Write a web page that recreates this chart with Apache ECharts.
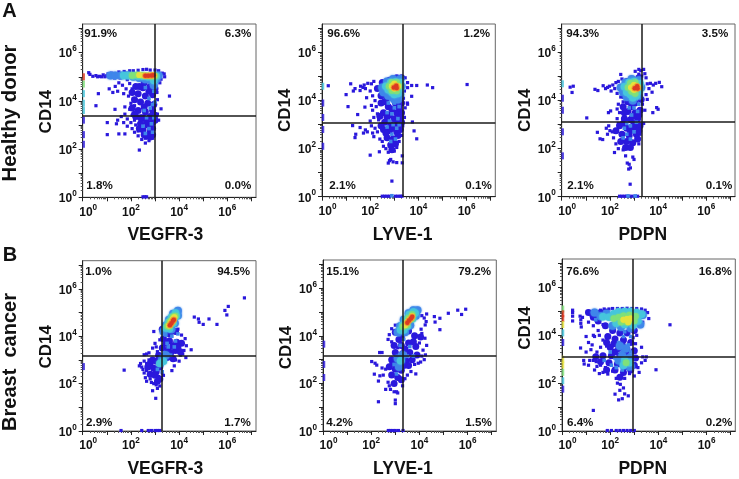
<!DOCTYPE html>
<html><head><meta charset="utf-8">
<script src="https://cdn.jsdelivr.net/npm/echarts@6/dist/echarts.min.js"></script>
<style>html,body{margin:0;background:#fff}#c{width:739px;height:479px}#c canvas{filter:blur(0.35px)}</style></head>
<body><div id="c"></div>
<script>
// All mark values are log10 decades.
const xTitles = ['VEGFR-3','LYVE-1','PDPN','VEGFR-3','LYVE-1','PDPN'];
const yTitle = 'CD14';
const tickExponents = [0,2,4,6];
const quadrantLabels = [
  ['91.9%','6.3%','1.8%','0.0%'],['96.6%','1.2%','2.1%','0.1%'],['94.3%','3.5%','2.1%','0.1%'],
  ['1.0%','94.5%','2.9%','1.7%'],['15.1%','79.2%','4.2%','1.5%'],['76.6%','16.8%','6.4%','0.2%']];
const gateX = [3.0,3.37,3.32,3.29,3.31,2.95];
const gateY = [3.4,3.07,3.11,3.17,3.15,3.10];

const p1Blue = [[0.25,5.17],[0.3,5.1],[0.42,5.02],[0.55,5.05],[0.62,5.0],[0.7,5.02],[0.78,5.0],[0.85,5.08],[0.92,5.0],[0.98,5.04],[1.05,5.12],[1.1,5.0],[1.15,5.08],[1.2,5.15],[1.28,5.05],[1.32,4.95],[1.38,5.13],[1.45,5.05],[1.5,5.2],[1.55,4.95],[1.6,5.1],[1.68,5.02],[1.72,5.22],[1.8,5.15],[1.85,4.88],[1.95,5.25],[2.1,5.25],[2.3,5.27],[2.5,5.3],[2.65,5.31],[2.8,5.28],[3.0,5.28],[3.15,5.25],[3.3,5.15],[3.38,5.12],[3.25,4.9],[3.2,4.75],[3.4,5.0],[3.08,4.35],
[1.1,4.5],[1.35,4.6],[1.5,4.75],[1.65,4.65],[1.8,4.5],[1.95,4.72],[1.25,4.35],[1.45,4.4],[1.7,4.3],[1.9,4.2],[2.05,4.5],[2.1,4.1],[2.0,3.9],[1.75,3.75],[1.95,3.65],[2.15,3.8],[2.05,3.4],[1.75,3.45],[1.6,3.35],[1.45,3.2],[1.4,3.05],[1.7,3.1],[1.85,3.25],[2.0,3.1],[2.15,3.2],[1.85,2.95],[2.05,2.85],[2.2,3.0],[2.15,2.7],[2.3,2.55],[2.45,2.4],[2.6,2.45],[2.75,2.35],[2.9,2.45],[2.6,2.25],[2.35,1.96],[2.3,2.75],
[3.6,4.2],[0.55,3.8],[1.02,2.6],[1.02,3.1],[1.5,2.63],[1.75,2.63],[0.65,4.3],[1.34,3.65],[3.25,3.67],[3.1,4.05],[3.1,3.45],[3.15,3.2],[2.5,0.02],[2.58,0.02],[2.65,0.02]];
const p1Bulk = [[2.2,4.6],[2.5,4.55],[2.8,4.6],[3.0,4.5],[2.3,4.3],[2.6,4.2],[2.9,4.25],[2.4,3.95],[2.7,3.9],[2.95,3.85],[2.3,3.6],[2.6,3.55],[2.9,3.6],[2.2,3.35],[2.5,3.3],[2.8,3.35],[3.0,3.4],[2.4,3.05],[2.7,3.0],[2.9,3.1],[2.5,2.8],[2.8,2.75],[2.65,2.55],[2.9,2.6],[2.05,4.35],[2.15,4.05],[2.05,3.7],[2.55,4.75],[2.35,4.6],[2.75,4.4],[2.55,3.75],[2.15,3.45],[2.4,3.3],[2.65,3.15],[2.35,2.85],[2.55,2.6],[2.8,2.5],[2.9,2.85],[3.0,3.2]];
const p1Speck = [[2.6,4.55],[2.95,4.4],[2.75,4.1],[2.9,3.85],[2.55,3.6],[2.8,3.7],[2.95,3.3],[2.65,3.3],[2.85,3.05],[2.5,2.95],[2.75,2.85],[2.9,2.7],[2.6,2.65],[3.0,3.95]];
const p1Halo = [[1.15,5.05],[1.35,5.05],[1.6,5.05],[1.85,5.05],[2.1,5.0],[2.35,4.95],[2.6,4.9],[2.85,4.85],[3.05,4.9],[3.15,5.05],[2.95,4.65]];
const p1Teal = [[1.7,5.05],[1.9,5.05],[2.1,5.04],[2.3,5.03],[2.5,5.02],[2.7,5.0],[2.9,5.0],[3.05,5.02],[2.95,4.85]];
const p1Green = [[2.05,5.05],[2.25,5.07],[2.45,5.06],[2.65,5.04],[2.85,5.02],[3.0,5.03]];
const p1Yellow = [[2.35,5.07],[2.55,5.05],[2.75,5.05],[2.95,5.05]];
const p1Red = [[2.6,5.04],[2.72,5.04],[2.85,5.05],[2.93,5.06]];
const p1Edge = [[0,3.2,'blue'],[0,2.6,'blue'],[0,3.6,'teal'],[0,2.2,'blue'],[0,4.3,'teal'],[0,3.9,'teal'],[0,4.7,'green'],[0,5.0,'red']];

const p2Blue = [[0.26,4.62],[1.19,4.7],[1.0,4.25],[1.08,3.75],[1.37,4.5],[1.58,4.42],[1.3,4.4],[1.48,3.42],[1.78,3.73],[1.85,4.12],[1.27,2.96],[1.58,2.88],[1.4,2.6],[1.37,2.46],[1.72,2.65],[1.8,2.78],[1.88,2.7],[2.0,1.73],[2.38,1.87],[2.9,0.65],[6.02,4.67],[4.37,4.65],[4.59,4.54],[3.93,4.63],[3.72,4.63],[3.55,4.54],[3.72,4.18],[3.54,3.9],[3.75,3.11],[3.82,2.74],[3.93,2.41],[3.33,1.7],[3.33,1.41],
[1.6,4.6],[1.7,4.55],[1.8,4.5],[1.75,4.65],[1.9,4.72],[2.0,4.4],[2.05,4.7],[2.15,4.8],[2.1,4.2],[2.2,4.0],[2.05,3.8],[2.1,3.6],[2.25,3.75],[2.0,3.15],[2.15,3.3],[2.3,3.45],[2.35,3.2],[2.05,2.95],[2.2,2.85],[2.1,2.65],[2.3,2.7],[2.15,2.5],[2.4,2.4],[2.5,2.3],[2.55,2.1],[2.65,2.0],[2.75,1.85],[3.0,1.9],[3.1,2.05],[2.85,1.55],[2.95,1.45],[2.75,1.4],[2.8,1.5],[3.1,1.42],[3.2,2.3],[3.3,2.55],[3.35,2.95],[3.42,3.3],[3.45,3.7],[3.38,4.1],[3.55,3.85],[3.45,4.95],[3.55,4.75],[3.42,4.4],
[2.5,0.02],[2.6,0.02],[2.7,0.02],[2.8,0.02],[3.05,0.02],[3.15,0.02],[3.25,0.02],[3.32,0.02]];
const p2Bulk = [[2.3,4.5],[2.5,4.75],[2.8,4.85],[3.1,4.95],[3.3,4.95],[2.45,4.2],[2.7,4.1],[2.45,3.9],[2.75,3.75],[3.05,3.9],[3.3,3.9],[2.55,3.5],[2.8,3.4],[3.1,3.5],[3.3,3.5],[2.6,3.1],[2.85,3.0],[3.1,3.05],[3.3,3.1],[2.55,2.8],[2.8,2.75],[3.1,2.7],[3.25,2.8],[2.7,2.45],[2.95,2.4],[3.15,2.55],[2.85,2.15],[3.05,2.2],[2.6,3.95],[2.9,3.65],[3.2,3.7],[2.7,3.3],[3.0,3.25],[2.4,3.35],[2.45,2.95],[2.95,2.85],[2.9,1.95],[2.65,2.65],[3.25,3.3],[2.9,4.15]];
const p2Speck = [[2.85,4.05],[3.1,4.15],[2.75,3.9],[3.0,3.7],[2.9,3.45],[3.15,3.25],[2.95,3.0],[3.1,2.85],[2.9,2.6],[3.05,2.4],[3.2,3.75],[2.7,2.9],[2.9,0.04],[2.7,3.5],[3.2,3.0],[2.85,2.3],[3.0,3.9],[2.8,3.15]];
const p2Halo = [[2.5,4.55],[2.55,4.35],[2.7,4.8],[2.95,4.9],[3.25,4.9],[3.3,4.6],[3.25,4.25],[3.0,4.05],[2.75,4.2],[3.15,4.05]];
const p2Teal = [[2.65,4.6],[2.75,4.45],[2.85,4.75],[2.9,4.35],[3.05,4.78],[3.15,4.3],[3.25,4.5],[3.25,4.75],[3.0,4.25]];
const p2Green = [[2.78,4.6],[2.9,4.75],[2.9,4.42],[3.1,4.75],[3.2,4.6],[3.1,4.4]];
const p2Yellow = [[2.9,4.6],[3.0,4.5],[3.0,4.7],[3.15,4.6]];
const p2Red = [[2.98,4.55],[3.08,4.62],[3.1,4.53]];
const p2Edge = [[0,4.6,'teal'],[0,3.9,'blue'],[0,3.3,'blue'],[0,2.8,'blue'],[0,2.1,'blue']];

const p3Blue = [[0.35,4.56],[0.48,4.6],[0.43,4.34],[1.38,4.47],[1.5,4.42],[1.04,3.28],[1.48,2.68],[1.59,2.41],[1.7,2.38],[2.19,1.84],[1.94,3.5],[2.03,3.57],[3.94,3.71],[4.0,3.64],[3.78,3.5],[2.45,5.09],
[3.2,5.1],[3.28,5.25],[3.4,5.3],[3.45,5.12],[3.32,5.02],[3.2,5.3],[3.05,5.22],[3.5,4.95],[3.55,4.7],[3.68,4.72],[3.8,4.65],[3.9,4.72],[4.05,4.76],[4.15,4.58],[3.62,4.5],[3.75,4.35],[3.5,4.25],[3.55,4.05],
[1.72,4.62],[1.82,4.5],[1.9,4.55],[1.98,4.6],[2.05,4.4],[2.12,4.65],[2.2,4.5],[2.25,4.75],[2.3,4.3],[2.35,4.8],[2.5,4.9],[2.45,4.15],[2.55,3.95],[2.35,3.85],[2.3,3.65],[2.4,3.5],[2.3,3.25],[2.35,3.05],[1.95,2.95],[1.85,2.85],[2.0,2.75],[1.9,2.6],[2.1,2.7],[2.15,2.45],[2.25,2.2],[2.35,2.0],[2.55,1.95],[2.65,1.7],[2.95,1.65],[3.0,1.55],[2.8,1.35],[2.85,1.2],[2.78,1.15],[2.72,1.4],[2.84,0.52],[3.2,2.2],[3.25,2.6],[3.4,3.05],[3.45,3.6],[3.35,3.85],
[2.4,0.02],[2.5,0.02],[2.6,0.02],[2.7,0.02],[2.8,0.02],[2.92,0.02],[3.05,0.02],[3.15,0.02]];
const p3Bulk = [[2.55,4.5],[2.7,4.8],[3.2,4.95],[2.6,4.2],[2.75,3.95],[3.05,3.9],[3.3,4.05],[2.55,3.75],[2.75,3.55],[3.05,3.5],[3.25,3.6],[2.6,3.25],[2.85,3.2],[3.15,3.25],[2.4,2.95],[2.7,2.85],[3.0,2.9],[3.25,2.95],[2.25,2.75],[2.5,2.6],[2.8,2.55],[3.1,2.6],[2.45,2.3],[2.7,2.3],[2.95,2.25],[3.15,2.4],[2.9,3.75],[2.6,3.5],[3.2,3.4],[2.95,3.35],[2.55,3.05],[2.85,2.75],[2.65,2.05],[2.85,2.05],[3.2,2.75],[3.0,3.05]];
const p3Speck = [[2.8,3.7],[3.0,3.7],[2.9,3.4],[3.1,3.1],[2.85,2.95],[3.0,2.7],[2.7,2.6],[2.85,2.4],[2.95,3.95],[3.2,3.85],[2.75,0.03],[3.05,0.03],[2.7,3.05],[3.15,3.55],[2.55,2.45],[2.6,2.85]];
const p3Halo = [[2.45,4.55],[2.55,4.35],[2.65,4.75],[2.9,4.9],[3.2,4.85],[3.3,4.55],[3.2,4.2],[2.95,4.0],[2.7,4.15]];
const p3Teal = [[2.6,4.58],[2.7,4.35],[2.8,4.75],[2.85,4.25],[3.0,4.8],[3.1,4.2],[3.22,4.4],[3.25,4.7],[2.95,4.12]];
const p3Green = [[2.75,4.55],[2.85,4.72],[2.9,4.38],[3.05,4.75],[3.2,4.55],[3.05,4.3]];
const p3Yellow = [[2.88,4.55],[3.0,4.45],[3.0,4.65],[3.15,4.55]];
const p3Red = [[3.03,4.52],[3.13,4.6],[3.15,4.5]];
const p3Edge = [[0,4.7,'teal'],[0,4.1,'blue'],[0,3.6,'blue'],[0,2.7,'blue'],[0,1.7,'blue']];

const p4Blue = [[3.03,1.38],[1.72,2.57],[4.63,4.81],[4.8,4.73],[4.83,4.59],[5.0,4.5],[5.24,4.73],[5.57,4.5],[5.9,5.09],[5.98,4.9],[6.04,5.26],[6.71,5.62],[4.5,3.43],[1.59,0.02],[2.45,0.02],[2.72,0.02],[2.85,0.02],[3.0,0.02],[3.1,0.02],[3.2,0.02],
[2.95,4.2],[3.0,3.7],[2.9,3.5],[3.05,3.55],[2.75,3.3],[2.65,3.25],[2.55,3.22],[3.2,3.85],[3.1,3.35],[2.35,2.75],[2.45,2.7],[2.5,2.6],[2.4,2.85],[2.55,2.95],[2.65,2.85],[2.75,3.0],[2.65,2.55],[2.55,2.45],[2.6,2.25],[2.65,2.1],[2.8,2.2],[2.85,2.05],[2.95,2.0],[3.05,1.95],[3.1,1.8],[3.2,1.9],[3.15,2.3],[3.35,2.35],[3.3,2.45],[3.7,2.55],[3.8,2.75],[3.85,3.0],[4.0,2.95],[4.05,3.2],[4.2,3.4],[4.3,3.6],[4.25,3.9],[4.1,4.05],[4.15,3.25],[3.95,4.3],[4.28,3.1],[2.9,1.7],[3.4,3.05]];
const p4Bulk = [[3.3,4.3],[3.6,4.1],[3.85,4.2],[3.35,3.9],[3.6,3.8],[3.9,3.75],[4.1,3.7],[3.3,3.5],[3.55,3.45],[3.85,3.4],[4.05,3.35],[3.25,3.1],[3.5,3.1],[3.75,3.05],[2.8,2.85],[3.05,2.95],[2.7,2.7],[2.95,2.65],[3.2,2.7],[2.8,2.4],[3.0,2.35],[3.2,2.2],[3.45,3.7],[3.75,3.6],[3.65,3.3],[3.05,2.5],[2.9,3.0],[3.15,3.2],[3.1,2.1],[3.95,3.55]];
const p4Speck = [[3.45,4.05],[3.7,4.0],[3.95,4.1],[3.5,3.7],[3.8,3.55],[3.4,3.3],[3.65,3.2],[3.2,3.0],[3.3,2.8],[3.1,2.6],[3.3,2.5],[3.55,3.55],[3.85,3.8],[3.15,2.8]];
const p4Halo = [[3.35,4.2],[3.45,4.45],[3.58,4.7],[3.75,4.95],[3.95,5.08],[3.95,4.88],[3.82,4.55],[3.68,4.3],[3.3,3.05],[3.45,3.2]];
const p4Teal = [[3.45,4.35],[3.55,4.58],[3.68,4.8],[3.85,4.98],[3.88,4.85],[3.75,4.55],[3.6,4.32],[3.35,2.95],[3.2,2.85]];
const p4Green = [[3.52,4.42],[3.62,4.62],[3.75,4.82],[3.84,4.85],[3.72,4.6],[3.6,4.42]];
const p4Yellow = [[3.58,4.45],[3.65,4.57],[3.73,4.72],[3.8,4.8]];
const p4Red = [[3.62,4.47],[3.68,4.55],[3.75,4.65],[3.78,4.7]];
const p4Edge = [[0,2.72,'blue']];

const p5Blue = [[5.2,4.95],[5.59,5.08],[5.75,4.9],[5.92,5.12],[4.62,4.81],[4.65,4.58],[4.85,4.74],[4.85,4.26],[4.28,4.6],[4.24,4.46],[4.07,4.28],[4.2,4.75],[4.1,4.85],[3.95,4.95],[4.3,4.92],[2.3,1.23],[2.02,2.92],[2.16,2.85],[2.23,2.77],[2.35,3.3],[2.45,3.3],[2.13,2.39],[2.36,2.32],[2.5,2.35],[2.6,2.6],[2.45,2.65],[2.3,2.1],[2.7,2.05],[2.75,1.9],[2.6,1.75],[2.8,1.75],[2.95,1.65],[3.05,1.65],[3.0,1.3],[3.0,1.15],[3.1,1.6],[3.3,1.9],[3.4,2.2],[3.65,2.5],[3.85,2.4],[3.5,2.35],
[2.75,4.05],[2.7,3.85],[2.85,3.75],[2.85,4.3],[3.0,4.45],[3.1,3.5],[4.23,3.9],[4.3,3.6],[4.15,3.4],[4.25,3.2],[4.1,3.15],[4.2,3.0],[4.05,2.9],[3.95,2.85],[3.8,2.8],[4.1,4.1],[4.0,3.7],
[2.71,0.02],[2.8,0.02],[2.9,0.02],[3.0,0.02],[3.13,0.02],[3.32,0.02]];
const p5Bulk = [[3.0,4.15],[3.25,3.95],[3.55,4.2],[3.8,4.0],[4.05,3.95],[2.95,3.6],[3.25,3.6],[3.55,3.7],[3.85,3.55],[3.0,3.3],[3.3,3.25],[3.6,3.3],[3.9,3.2],[2.85,3.0],[3.1,2.9],[3.45,2.95],[3.7,3.0],[2.75,2.7],[3.0,2.6],[3.25,2.55],[2.85,2.35],[3.1,2.25],[3.25,2.15],[2.95,2.0],[3.55,2.75],[3.15,3.85],[3.4,3.45],[3.75,3.75],[2.9,2.85],[3.35,2.75]];
const p5Speck = [[3.1,3.1],[3.5,3.15],[3.2,3.6],[3.35,3.85],[3.6,3.55],[3.75,3.15],[2.95,2.8],[3.05,2.4],[3.15,4.05]];
const p5Halo = [[3.1,3.05],[3.22,2.95],[3.15,2.7],[3.3,3.2],[3.1,4.15],[3.2,4.4],[3.35,4.68],[3.55,4.95],[3.75,5.08],[3.92,5.08],[3.85,4.85],[3.62,4.45],[3.4,4.15]];
const p5Teal = [[3.22,4.25],[3.3,4.45],[3.42,4.68],[3.58,4.9],[3.75,5.0],[3.82,4.95],[3.72,4.72],[3.5,4.4],[3.35,4.25],[3.22,2.95]];
const p5Green = [[3.32,4.38],[3.45,4.55],[3.55,4.75],[3.7,4.9],[3.68,4.72],[3.48,4.45]];
const p5Yellow = [[3.4,4.45],[3.5,4.58],[3.6,4.7],[3.7,4.83]];
const p5Red = [[3.5,4.55],[3.57,4.65],[3.65,4.73],[3.7,4.8]];
const p5Edge = [[0,3.65,'blue'],[0,2.8,'blue'],[0,2.25,'blue']];

const p6Blue = [[4.48,4.44],[3.9,2.56],[1.3,0.86],[0.44,4.95],[0.44,5.05],[0.44,4.8],[0.44,4.6],[0.77,3.47],[2.2,1.54],[2.75,1.47],[2.4,1.7],[2.55,1.8],[2.35,1.3],[2.5,1.35],[2.6,1.55],[2.3,2.0],[2.42,1.95],[2.25,2.2],[2.6,2.2],[2.8,2.4],[3.0,2.3],
[0.75,4.8],[0.78,4.65],[0.78,4.5],[0.8,4.35],[0.85,4.75],[1.05,5.0],[1.1,4.55],[1.2,4.85],[1.3,4.4],[1.35,5.0],[1.45,4.75],[1.5,4.2],[1.6,5.05],[1.7,4.45],[1.75,5.1],[1.85,5.05],[1.95,5.1],[2.1,5.12],[2.3,5.12],[2.5,5.12],[2.7,5.13],[2.9,5.12],[3.1,5.12],[3.3,5.1],[3.45,5.05],[3.55,4.95],[3.6,4.7],[3.35,4.55],[3.15,4.5],
[1.0,3.95],[1.1,3.7],[1.25,3.6],[1.35,3.95],[1.45,3.3],[1.3,4.0],[1.55,4.0],[1.7,3.8],[1.85,3.55],[1.6,3.5],[1.0,3.3],[1.2,3.4],[0.9,2.95],[0.92,2.8],[1.1,2.75],[1.15,2.95],[1.3,2.95],[1.42,2.9],[1.45,2.7],[1.35,2.55],[1.6,2.75],[1.55,2.4],[1.7,2.45],[1.9,2.38],[1.8,2.65],[2.1,2.5],[3.2,2.45],[3.05,3.65],[3.3,3.5],[3.35,3.1],[3.5,3.1],[3.45,2.95],[3.3,2.85],[3.15,2.65],[3.1,4.0],[2.95,3.9],
[1.88,0.02],[2.05,0.02],[2.25,0.02],[2.4,0.02],[2.55,0.02],[2.7,0.02],[2.85,0.02],[3.0,0.02]];
const p6Bulk = [[1.5,4.6],[1.8,4.4],[2.1,4.2],[2.4,4.1],[2.7,4.1],[3.0,4.2],[1.9,3.95],[2.2,3.85],[2.55,3.8],[2.85,3.7],[2.0,3.5],[2.35,3.45],[2.7,3.4],[3.0,3.35],[1.7,3.15],[2.05,3.15],[2.4,3.15],[2.75,3.1],[3.05,3.05],[1.6,2.9],[1.95,2.85],[2.3,2.8],[2.65,2.7],[3.0,2.75],[1.85,2.55],[2.2,2.55],[2.55,2.45],[2.85,2.55],[2.4,2.25],[1.3,4.75],[1.1,4.95],[1.6,4.95],[2.15,3.65],[2.5,3.6],[1.85,3.7],[2.2,3.3],[2.6,3.25],[1.4,3.1]];
const p6Speck = [[2.55,3.95],[2.85,3.95],[2.35,3.7],[2.75,3.6],[2.5,3.3],[2.85,3.3],[2.2,3.05],[2.55,3.0],[2.9,3.15],[2.25,2.65],[2.05,2.75],[2.5,2.55],[2.75,2.6],[1.4,4.65],[2.6,4.15],[2.0,3.3],[1.75,2.95]];
const p6Halo = [[1.35,4.95],[1.6,4.8],[1.85,4.9],[2.1,4.4],[2.45,4.35],[2.85,4.3],[3.25,4.45],[3.35,4.85],[2.35,2.95],[2.55,2.75],[2.85,2.7],[2.5,3.15],[2.8,3.05],[2.65,3.45],[2.4,3.55]];
const p6Teal = [[1.7,4.78],[1.95,4.75],[2.15,4.9],[2.35,4.98],[2.6,5.0],[2.85,5.0],[3.1,4.95],[3.3,4.88],[3.15,4.6],[2.25,4.5],[2.6,4.45],[2.95,4.42],[2.6,2.95],[2.8,2.85],[2.55,2.75]];
const p6Green = [[2.15,4.7],[2.35,4.75],[2.55,4.82],[2.8,4.85],[3.05,4.8],[2.45,4.55],[2.7,4.55],[3.0,4.6],[2.66,2.85]];
const p6Yellow = [[2.55,4.65],[2.7,4.68],[2.85,4.7],[2.75,4.55]];
const p6Red = [];
const p6Edge = [[0,5.1,'green'],[0,4.9,'red'],[0,4.7,'red'],[0,4.45,'yellow'],[0,4.1,'teal'],[0,3.7,'blue'],[0,3.0,'yellow'],[0,2.75,'yellow'],[0,2.45,'green'],[0,2.1,'teal'],[0,1.75,'blue']];

const layers = [
  ['blue',[p1Blue,p2Blue,p3Blue,p4Blue,p5Blue,p6Blue],'#2a18dc',3.2,'rect',0],
  ['bulk',[p1Bulk,p2Bulk,p3Bulk,p4Bulk,p5Bulk,p6Bulk],'#2a18dc',7,'circle',0],
  ['speck',[p1Speck,p2Speck,p3Speck,p4Speck,p5Speck,p6Speck],'#3f86ea',3.6,'rect',0],
  ['halo',[p1Halo,p2Halo,p3Halo,p4Halo,p5Halo,p6Halo],'#3f86ea',8,'circle',2],
  ['teal',[p1Teal,p2Teal,p3Teal,p4Teal,p5Teal,p6Teal],'#46c6dc',7.5,'circle',2],
  ['green',[p1Green,p2Green,p3Green,p4Green,p5Green,p6Green],'#7fe07a',6.5,'circle',2],
  ['yellow',[p1Yellow,p2Yellow,p3Yellow,p4Yellow,p5Yellow,p6Yellow],'#e6e23c',6,'circle',1],
  ['orange',[p1Red,p2Red,p3Red,p4Red,p5Red,p6Red],'#ee9a30',6,'circle',1],
  ['red',[p1Red,p2Red,p3Red,p4Red,p5Red,p6Red],'#dc3a22',4.5,'circle',0]
];
const edgeLists = [p1Edge,p2Edge,p3Edge,p4Edge,p5Edge,p6Edge];
const edgeColors = {blue:'#2a18dc',teal:'#46c6dc',green:'#7fe07a',yellow:'#e6e23c',red:'#dc3a22'};

const boxes = [
  [82.7,24,173.3,173.3],[322,24,173.3,172.7],[561.7,24,173.3,172.7],
  [82.7,260.7,173.3,172.6],[323,260,173.3,172.7],[562,259,173.3,173]];
const xShift = [4,6,5.6,4,6.7,5.9], yShift = [-1,0,0,-1,-2,17];
const AXIS_MAX = 7.19, FONT = '"Liberation Sans",Arial,sans-serif';
const minorTicks = [];
for (let d = 0; d < 8; d++) for (let k = 2; k < 10; k++) {
  const v = d + Math.log10(k); if (v < AXIS_MAX) minorTicks.push(v);
}
const decades = [0,1,2,3,4,5,6,7];
const rich = {
  b:{fontFamily:FONT,fontSize:12,fontWeight:'bold',color:'#111',verticalAlign:'bottom',lineHeight:15},
  f:{fontFamily:FONT,fontSize:12,fontWeight:'bold',color:'#111',verticalAlign:'bottom',lineHeight:15,padding:[0,0,0,11]},
  s:{fontFamily:FONT,fontSize:8.2,fontWeight:'bold',color:'#111',verticalAlign:'top',lineHeight:15}
};
const grid=[],xAxis=[],yAxis=[],series=[],graphic=[];
boxes.forEach((b,i)=>{
  grid.push({left:b[0],top:b[1],width:b[2],height:b[3],show:true,borderColor:'#666',borderWidth:1,backgroundColor:'transparent'});
  const base={type:'value',gridIndex:i,min:0,max:AXIS_MAX,splitLine:{show:false}};
  const line={show:true,lineStyle:{color:'#222',width:1}};
  xAxis.push({...base,position:'bottom',axisLine:line,
    name:xTitles[i],nameLocation:'middle',nameGap:29,
    nameTextStyle:{fontFamily:FONT,fontSize:17.5,fontWeight:'bold',color:'#111',padding:[0,2*xShift[i],0,0]},
    axisTick:{show:true,customValues:decades,length:4,lineStyle:{color:'#222'}},
    axisLabel:{show:true,customValues:tickExponents,margin:6,hideOverlap:false,showMinLabel:true,showMaxLabel:true,
      formatter:v=>`{${v===0?'f':'b'}|10}{s|${v}}`,rich}});
  xAxis.push({...base,position:'bottom',axisLine:{show:false},axisLabel:{show:false},
    axisTick:{show:true,customValues:minorTicks,length:2,lineStyle:{color:'#555'}}});
  yAxis.push({...base,position:'left',axisLine:line,
    name:yTitle,nameLocation:'middle',nameGap:28,
    nameTextStyle:{fontFamily:FONT,fontSize:17,fontWeight:'bold',color:'#111',padding:yShift[i]>=0?[0,0,0,2*yShift[i]]:[0,-2*yShift[i],0,0]},
    axisTick:{show:true,customValues:decades,length:4,lineStyle:{color:'#222'}},
    axisLabel:{show:true,customValues:tickExponents,margin:6,hideOverlap:false,showMinLabel:true,showMaxLabel:true,
      formatter:v=>`{b|10}{s|${v}}`,rich}});
  yAxis.push({...base,position:'left',axisLine:{show:false},axisLabel:{show:false},
    axisTick:{show:true,customValues:minorTicks,length:2,lineStyle:{color:'#555'}}});
  layers.forEach(l=>series.push({type:'scatter',name:l[0],xAxisIndex:2*i,yAxisIndex:2*i,data:l[1][i],
    symbol:l[4],symbolSize:l[3],itemStyle:{color:l[2],opacity:1,shadowBlur:l[5],shadowColor:l[2]},silent:true,animation:false}));
  series.push({type:'scatter',name:'edge',xAxisIndex:2*i,yAxisIndex:2*i,
    data:edgeLists[i].map(e=>({value:[e[0],e[1]],itemStyle:{color:edgeColors[e[2]]}})),
    symbol:'rect',symbolSize:[2.5,7],symbolOffset:[1,0],silent:true,animation:false});
  series.push({type:'scatter',name:'gate',xAxisIndex:2*i,yAxisIndex:2*i,data:[],silent:true,animation:false,
    markLine:{silent:true,animation:false,symbol:'none',label:{show:false},lineStyle:{color:'#1a1a1a',width:1.5,type:'solid'},
      data:[{xAxis:gateX[i]},{yAxis:gateY[i]}]}});
});
const pct=[ // left of the two left labels, right of the two right labels, top row y, bottom row y
  [84.3,86.3,251.3,251.3,33.3,185.7],[327.3,329.3,490,491.7,33.7,186],[566.3,567.3,728.3,732.3,33.7,185.7],
  [85.3,86,250,250.7,271.3,423],[326.3,326.3,491,491.7,271.3,423],[566.3,567,731.7,732.3,271.3,423]];
function txt(x,y,t,size,align,rot){
  graphic.push({type:'text',x,y,rotation:rot||0,silent:true,
    style:{text:t,fontFamily:FONT,fontWeight:'bold',fontSize:size,fill:'#111',align:align||'left',verticalAlign:'middle'}});
}
pct.forEach((p,i)=>{
  const q=quadrantLabels[i];
  txt(p[0],p[4],q[0],11.6,'left'); txt(p[2],p[4],q[1],11.6,'right');
  txt(p[1],p[5],q[2],11.6,'left'); txt(p[3],p[5],q[3],11.6,'right');
});
txt(9.5,11,'A',20,'center'); txt(10,255,'B',20,'center');
txt(10,113,'Healthy donor',20.4,'center',Math.PI/2);
txt(10,362,'Breast  cancer',20,'center',Math.PI/2);
const chart=echarts.init(document.getElementById('c'),null,{renderer:'canvas'});
chart.setOption({animation:false,backgroundColor:'#fff',grid,xAxis,yAxis,series,graphic});
</script></body></html>
